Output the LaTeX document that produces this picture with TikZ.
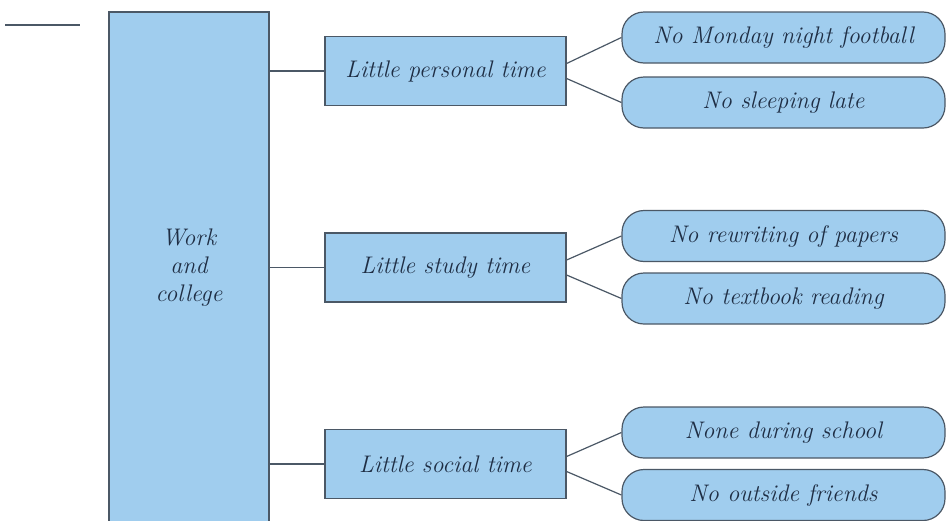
\documentclass[tikz,border=0pt]{standalone}
\usetikzlibrary{positioning}
\definecolor{boxblue}{HTML}{A0CDEE}
\definecolor{boxline}{HTML}{4B5866}
\definecolor{inkblue}{HTML}{1F2E44}
\begin{document}
\begin{tikzpicture}[x=0.5pt,y=-0.5pt,
  box/.style={draw=boxline,fill=boxblue,line width=0.6pt,text=inkblue,
    font=\large\itshape,inner sep=0pt},
  cause/.style={box,minimum width=120.5pt,minimum height=34.5pt},
  effect/.style={box,rounded corners=11pt,minimum width=161.5pt,minimum height=25.5pt},
  link/.style={draw=boxline,line width=0.6pt}]
\useasboundingbox (0,0) rectangle (948,520);
\clip (0,0) rectangle (948,520);
% Short rule, top left
\coordinate (ruleL) at (5,25);
\coordinate (ruleR) at (80,25);
\draw[link] (ruleL) -- (ruleR);
% Main box
\node[box,minimum width=80pt,minimum height=256pt,align=center] (work) at (189,268)
  {Work\\and\\college};
% Middle boxes
\node[cause] (personal) at (445.5,71) {Little personal time};
\node[cause] (study) at (445.5,267.5) {Little study time};
\node[cause] (social) at (445.5,464) {Little social time};
% Right boxes
\node[effect] (football) at (783.5,37.5) {No Monday night football};
\node[effect] (sleeping) at (783.5,102.5) {No sleeping late};
\node[effect] (papers) at (783.5,236) {No rewriting of papers};
\node[effect] (reading) at (783.5,298.5) {No textbook reading};
\node[effect] (school) at (783.5,432.5) {None during school};
\node[effect] (friends) at (783.5,495) {No outside friends};
% Links from main box
\draw[link] (work.east |- personal) -- (personal.west);
\draw[link] (work.east |- study) -- (study.west);
\draw[link] (work.east |- social) -- (social.west);
% Links to right boxes
\draw[link] ([yshift=3.75pt]personal.east) -- (football.west);
\draw[link] ([yshift=-3.75pt]personal.east) -- (sleeping.west);
\draw[link] ([yshift=3.75pt]study.east) -- (papers.west);
\draw[link] ([yshift=-3.75pt]study.east) -- (reading.west);
\draw[link] ([yshift=3.75pt]social.east) -- (school.west);
\draw[link] ([yshift=-3.75pt]social.east) -- (friends.west);
\end{tikzpicture}
\end{document}
